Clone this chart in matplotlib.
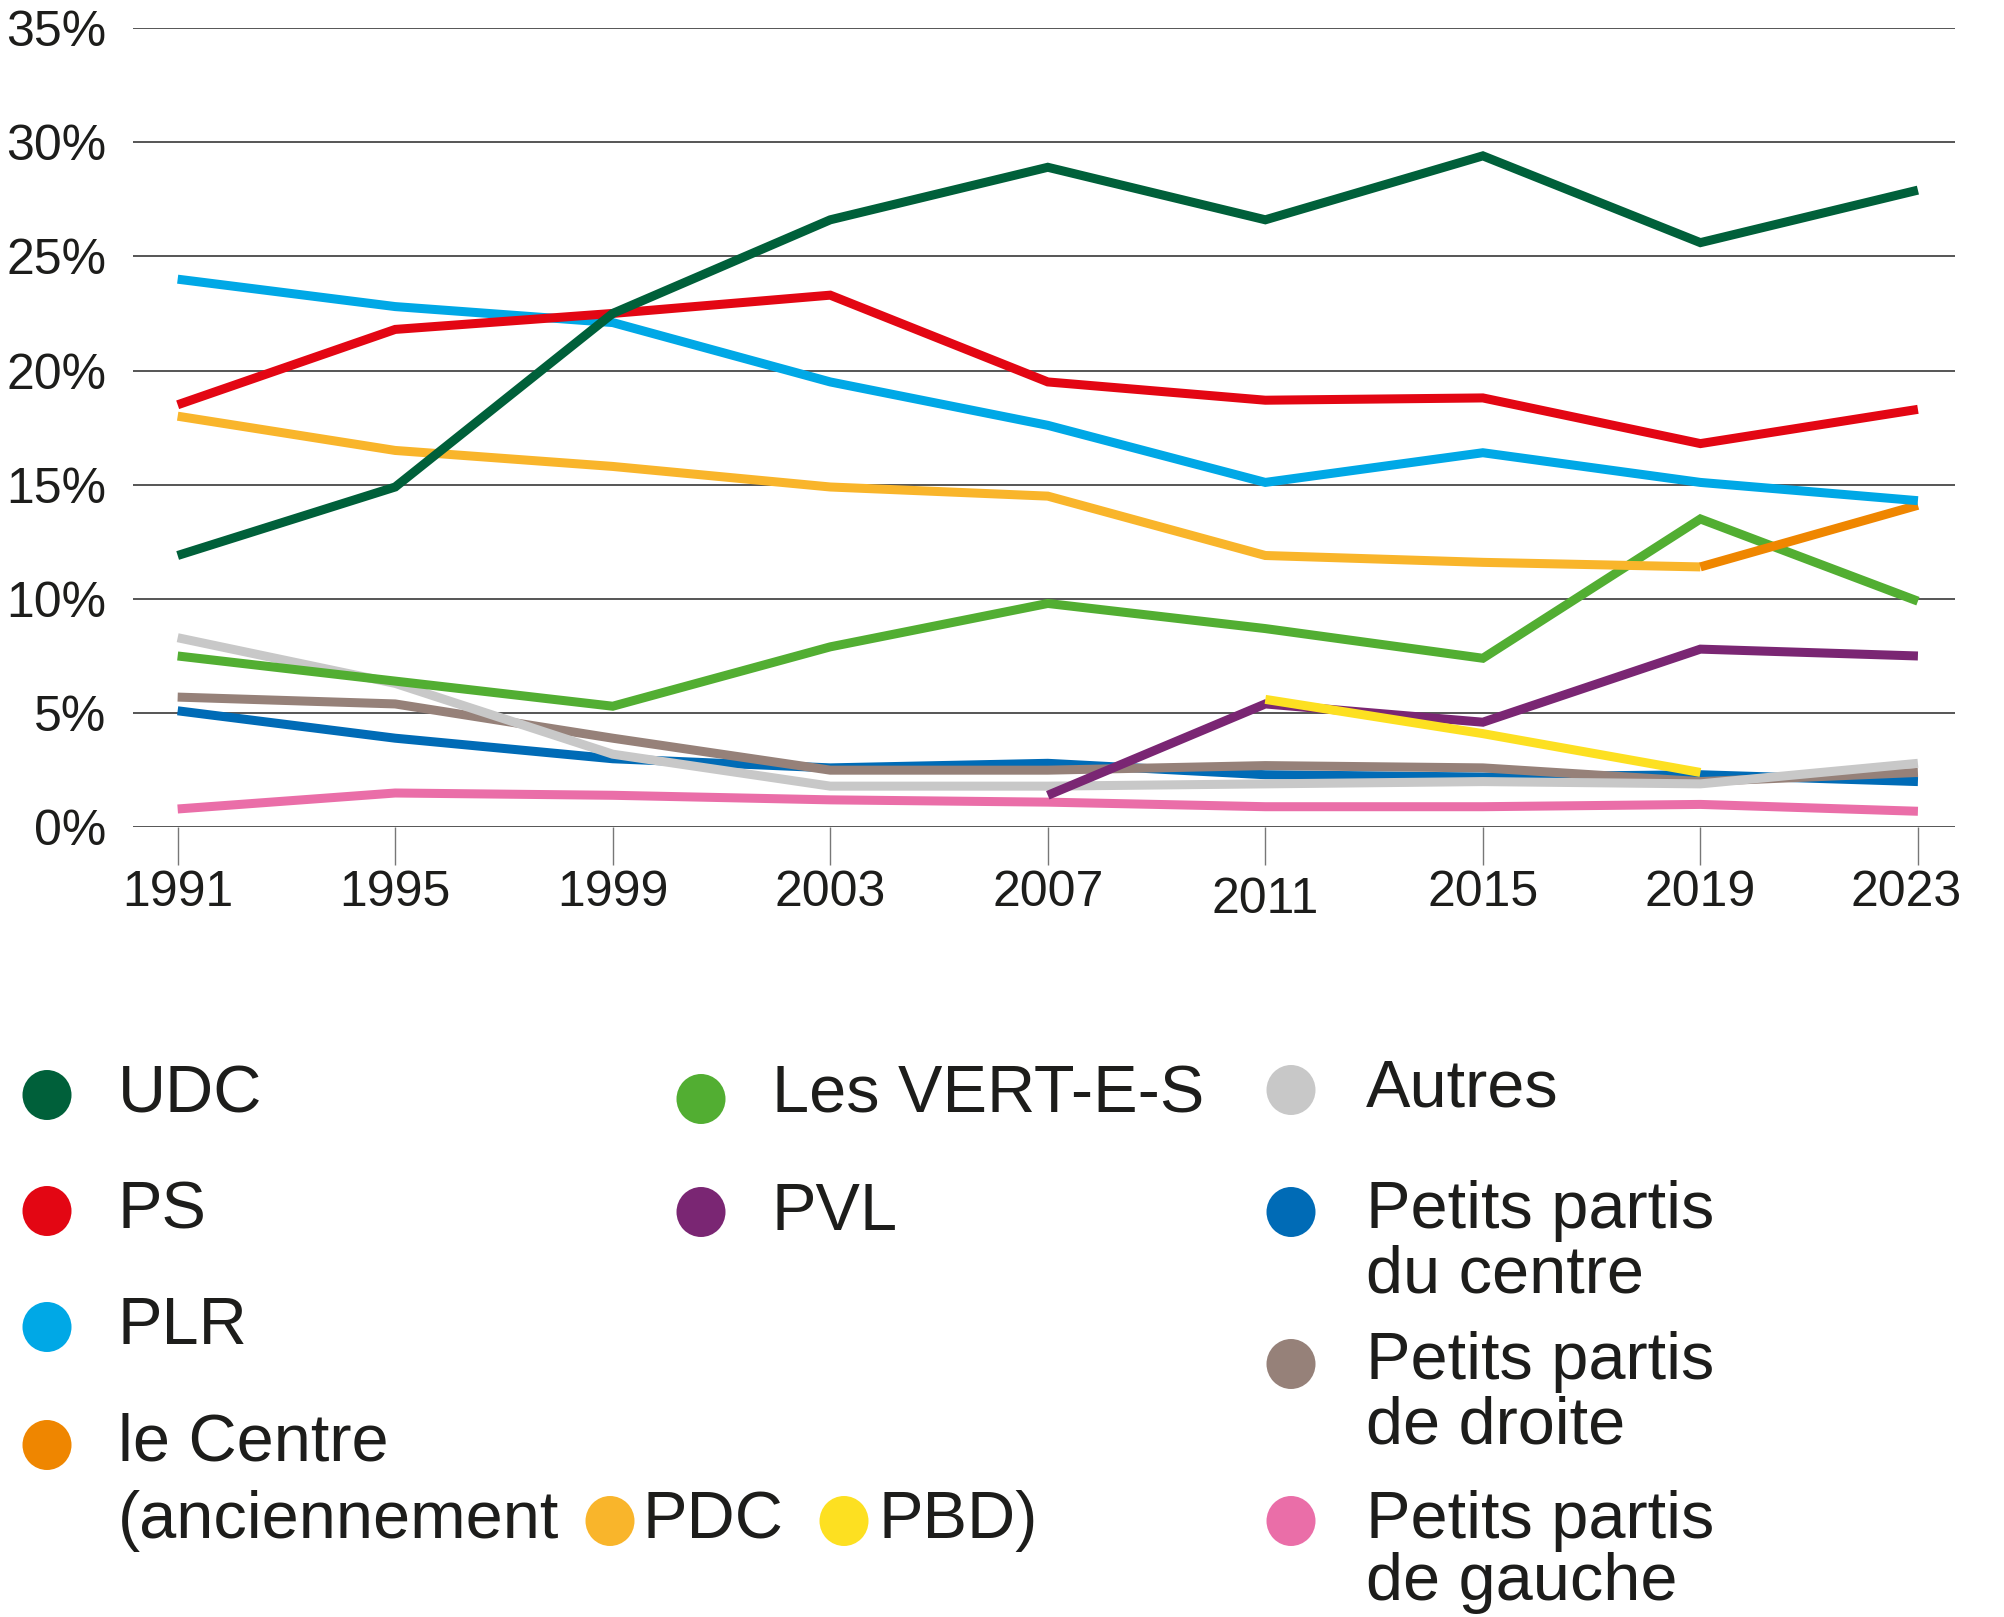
import matplotlib.pyplot as plt
from matplotlib.patches import Ellipse
from matplotlib import transforms

plt.rcParams['font.family'] = ['Liberation Sans', 'DejaVu Sans']

# ---- data (vote share, %) ----
years = [1991, 1995, 1999, 2003, 2007, 2011, 2015, 2019, 2023]
udc = [11.9, 14.9, 22.5, 26.6, 28.9, 26.6, 29.4, 25.6, 27.9]
ps = [18.5, 21.8, 22.5, 23.3, 19.5, 18.7, 18.8, 16.8, 18.3]
plr = [24.0, 22.8, 22.1, 19.5, 17.6, 15.1, 16.4, 15.1, 14.3]
pdc = [18.0, 16.5, 15.8, 14.9, 14.5, 11.9, 11.6, 11.4]
centre_years = [2019, 2023]
centre = [11.4, 14.1]
verts = [7.5, 6.4, 5.3, 7.9, 9.8, 8.7, 7.4, 13.5, 9.9]
pvl_years = [2007, 2011, 2015, 2019, 2023]
pvl = [1.4, 5.4, 4.6, 7.8, 7.5]
pbd_years = [2011, 2015, 2019]
pbd = [5.6, 4.1, 2.4]
autres = [8.3, 6.3, 3.2, 1.8, 1.8, 1.9, 2.0, 1.9, 2.8]
pp_centre = [5.1, 3.9, 3.0, 2.6, 2.8, 2.3, 2.2, 2.3, 2.0]
pp_droite = [5.7, 5.4, 3.9, 2.5, 2.5, 2.7, 2.6, 2.0, 2.4]
pp_gauche = [0.8, 1.5, 1.4, 1.2, 1.1, 0.9, 0.9, 1.0, 0.7]

yticks = [0, 5, 10, 15, 20, 25, 30, 35]

c_udc = '#00603a'
c_ps = '#e30613'
c_plr = '#00a8e6'
c_pdc = '#f9b52b'
c_centre = '#ef8600'
c_verts = '#52ae32'
c_pvl = '#7a2673'
c_pbd = '#fde021'
c_autres = '#c8c8c8'
c_ppc = '#006bb6'
c_ppd = '#968179'
c_ppg = '#ea6ea8'
txt = '#1d1d1b'

fig = plt.figure(figsize=(20.04, 16.17), dpi=100)
ax = fig.add_axes([0.0664, 0.4884, 0.9091, 0.4943])

lw = 6.5
kw = dict(lw=lw, solid_capstyle='butt', solid_joinstyle='miter')
ax.plot(years, pp_gauche, color=c_ppg, **kw)
ax.plot(years, pp_centre, color=c_ppc, **kw)
ax.plot(years, pp_droite, color=c_ppd, **kw)
ax.plot(years, autres, color=c_autres, **kw)
ax.plot(pvl_years, pvl, color=c_pvl, **kw)
ax.plot(pbd_years, pbd, color=c_pbd, **kw)
ax.plot(years, verts, color=c_verts, **kw)
ax.plot(years[:8], pdc, color=c_pdc, **kw)
ax.plot(centre_years, centre, color=c_centre, **kw)
ax.plot(years, plr, color=c_plr, **kw)
ax.plot(years, ps, color=c_ps, **kw)
ax.plot(years, udc, color=c_udc, **kw)

ax.set_xlim(1990.18, 2023.68)
ax.set_ylim(0, 35)
ax.set_yticks(yticks)
ax.set_yticklabels([f'{v}%' for v in yticks])
ax.set_xticks(years)
ax.set_xticklabels([str(y) for y in years])
for s in ax.spines.values():
    s.set_visible(False)
ax.grid(axis='y', color='#555555', lw=1.4)
ax.set_axisbelow(True)
ax.tick_params(axis='y', length=0, pad=19, labelsize=36, labelcolor=txt)
ax.tick_params(axis='x', length=27, width=1, color='#777777', pad=4,
               labelsize=36, labelcolor=txt)
# small offsets seen in the original: 2011 sits lower, 2023 a bit to the left
xlabs = ax.get_xticklabels()
xlabs[5].set_transform(xlabs[5].get_transform() + transforms.ScaledTranslation(0, -7 / 100, fig.dpi_scale_trans))
xlabs[8].set_transform(xlabs[8].get_transform() + transforms.ScaledTranslation(-12 / 100, 0, fig.dpi_scale_trans))

# ---- legend, drawn by hand in pixel coordinates ----
leg = fig.add_axes([0, 0, 1, 1])
leg.set_xlim(0, 2004)
leg.set_ylim(1617, 0)
leg.axis('off')
leg.patch.set_alpha(0)

fs = 48
r = 49


def dot(x, y, c):
    leg.add_patch(Ellipse((x, y), r, r * 1.02, color=c, lw=0))


def label(x, y, s):
    leg.text(x, y, s, fontsize=fs, color=txt, va='center', ha='left')


entries = [
    (47, 1095, c_udc, 118, 1095, 'UDC'),
    (47, 1211, c_ps, 118, 1211, 'PS'),
    (47, 1327, c_plr, 118, 1327, 'PLR'),
    (47, 1445, c_centre, 118, 1443, 'le Centre'),
    (701, 1099, c_verts, 772, 1095, 'Les VERT-E-S'),
    (701, 1212, c_pvl, 772, 1213, 'PVL'),
    (1291, 1090, c_autres, 1366, 1089, 'Autres'),
    (1291, 1212, c_ppc, 1366, 1211, 'Petits partis'),
    (1291, 1364, c_ppd, 1366, 1362, 'Petits partis'),
    (1291, 1521, c_ppg, 1366, 1521, 'Petits partis'),
]
for cx, cy, c, tx, ty, s in entries:
    dot(cx, cy, c)
    label(tx, ty, s)

label(1366, 1275, 'du centre')
label(1366, 1426, 'de droite')
label(1366, 1583, 'de gauche')

label(118, 1521, '(anciennement')
dot(610, 1521, c_pdc)
label(643, 1521, 'PDC')
dot(844, 1521, c_pbd)
label(879, 1521, 'PBD)')

fig.savefig('out.png', dpi=100, facecolor='white')
